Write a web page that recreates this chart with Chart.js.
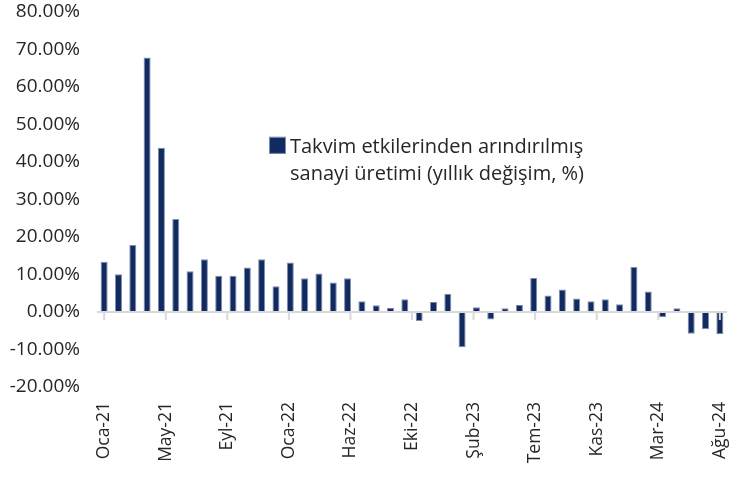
<!DOCTYPE html>
<html>
<head>
<meta charset="utf-8">
<script src="https://cdn.jsdelivr.net/npm/chart.js@4/dist/chart.umd.min.js"></script>
<style>
html,body{margin:0;padding:0;background:#fff;}
#wrap{width:730px;height:479px;position:relative;}
</style>
</head>
<body>
<div id="wrap"><canvas id="c" width="730" height="479"></canvas></div>
<script>
// Months Oca-21 .. Ağu-24
const months = [
  'Oca-21','Şub-21','Mar-21','Nis-21','May-21','Haz-21','Tem-21','Ağu-21','Eyl-21','Eki-21','Kas-21','Ara-21',
  'Oca-22','Şub-22','Mar-22','Nis-22','May-22','Haz-22','Tem-22','Ağu-22','Eyl-22','Eki-22','Kas-22','Ara-22',
  'Oca-23','Şub-23','Mar-23','Nis-23','May-23','Haz-23','Tem-23','Ağu-23','Eyl-23','Eki-23','Kas-23','Ara-23',
  'Oca-24','Şub-24','Mar-24','Nis-24','May-24','Haz-24','Tem-24','Ağu-24'
];
// Calendar-adjusted industrial production, annual change (%)
const values = [
  13.4, 10.1, 17.9, 67.9, 43.8, 24.8, 10.9, 14.1, 9.7, 9.7, 11.9, 14.1,
  6.9, 13.2, 9.0, 10.3, 7.9, 9.0, 2.9, 1.8, 1.1, 3.4, -2.4, 2.7,
  4.9, -9.4, 1.3, -2.0, 1.0, 1.9, 9.1, 4.4, 6.0, 3.6, 2.9, 3.4,
  2.1, 12.0, 5.5, -1.4, 1.0, -5.8, -4.6, -5.9
];
const tickLabels = ['Oca-21','May-21','Eyl-21','Oca-22','Haz-22','Eki-22','Şub-23','Tem-23','Kas-23','Mar-24','Ağu-24'];
const legendLines = ['Takvim etkilerinden arındırılmış', 'sanayi üretimi (yıllık değişim, %)'];
const yMin = -20, yMax = 80, yStep = 10;

const BAR = '#112b61';
const TXT = '#262626';
const FONT = "'Open Sans', 'Noto Sans', sans-serif";

const tickStep = (values.length - 1) / (tickLabels.length - 1);

const zeroLinePlugin = {
  id: 'zeroLine',
  afterDatasetsDraw(chart) {
    const {ctx, chartArea, scales} = chart;
    const y0 = scales.y.getPixelForValue(0);
    ctx.save();
    ctx.strokeStyle = '#d9d9d9';
    ctx.lineWidth = 2;
    ctx.beginPath();
    ctx.moveTo(chartArea.left, y0);
    ctx.lineTo(chartArea.right, y0);
    ctx.stroke();
    scales.x.ticks.forEach(t => {
      const x = scales.x.getPixelForValue(t.value);
      ctx.beginPath();
      ctx.moveTo(x, y0);
      ctx.lineTo(x, y0 + 8);
      ctx.stroke();
    });
    ctx.restore();
  }
};

const legendPlugin = {
  id: 'boxLegend',
  afterDraw(chart, args, opts) {
    const {ctx, chartArea} = chart;
    const w = chartArea.right - chartArea.left, h = chartArea.bottom - chartArea.top;
    const x = chartArea.left + opts.fx * w;
    const y = chartArea.top + opts.fy * h;
    ctx.save();
    ctx.fillStyle = BAR;
    ctx.fillRect(x, y, 17, 17);
    ctx.strokeStyle = '#7f8fb0';
    ctx.lineWidth = 1;
    ctx.strokeRect(x + 0.5, y + 0.5, 16, 16);
    ctx.fillStyle = TXT;
    ctx.font = "20px " + FONT;
    ctx.textBaseline = 'alphabetic';
    ctx.textAlign = 'left';
    legendLines.forEach((line, i) => {
      ctx.fillText(line, x + 21, y + 16.5 + i * 27);
    });
    ctx.restore();
  }
};

new Chart(document.getElementById('c'), {
  type: 'bar',
  data: {
    labels: months,
    datasets: [{
      label: legendLines.join(' '),
      data: values.map((v, i) => ({x: i, y: v})),
      backgroundColor: BAR,
      borderColor: '#7f8fb0',
      borderWidth: 1,
      barPercentage: 0.7,
      categoryPercentage: 0.7
    }]
  },
  options: {
    responsive: false,
    animation: false,
    devicePixelRatio: 1,
    layout: { padding: {top: 12, right: 3, bottom: 0, left: 0}, autoPadding: false },
    plugins: {
      legend: { display: false },
      tooltip: { enabled: false },
      boxLegend: { fx: 0.273, fy: 0.333 }
    },
    scales: {
      x: {
        type: 'linear',
        min: -0.5,
        max: values.length - 0.5,
        offset: false,
        grid: { display: false, drawTicks: false },
        border: { display: false },
        afterBuildTicks(s) {
          s.ticks = tickLabels.map((_, i) => ({value: i * tickStep}));
        },
        afterFit(s) { s.height = 92; s.paddingLeft = 0; s.paddingRight = 0; },
        ticks: {
          autoSkip: false,
          minRotation: 90,
          maxRotation: 90,
          padding: 15,
          color: TXT,
          font: { family: FONT, size: 17.5 },
          callback: (v, i) => tickLabels[i]
        }
      },
      y: {
        min: yMin,
        max: yMax,
        grid: { display: false, drawTicks: false },
        border: { display: false },
        afterFit(s) { s.width = 97; s.paddingTop = 0; s.paddingBottom = 0; },
        ticks: {
          stepSize: yStep,
          padding: 17,
          color: TXT,
          font: { family: FONT, size: 19 },
          callback: v => v.toFixed(2) + '%'
        }
      }
    }
  },
  plugins: [zeroLinePlugin, legendPlugin]
});
</script>
</body>
</html>
